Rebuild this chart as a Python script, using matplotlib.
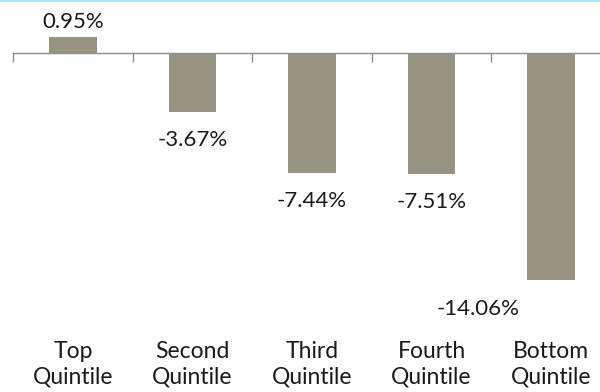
import matplotlib
matplotlib.use("Agg")
import matplotlib.pyplot as plt
import matplotlib.transforms as mtransforms

categories = ["Top\nQuintile", "Second\nQuintile", "Third\nQuintile", "Fourth\nQuintile", "Bottom\nQuintile"]
values = [0.95, -3.67, -7.44, -7.51, -14.06]
value_labels = ["0.95%", "-3.67%", "-7.44%", "-7.51%", "-14.06%"]

plt.rcParams['font.family'] = ['Lato', 'DejaVu Sans']
BAR = '#979481'
TXT = '#1a1a1a'
FS_VAL = 16
FS_CAT = 16.5

fig = plt.figure(figsize=(6.0, 3.92), dpi=100)
W, H = 600.0, 392.0
left_px, cat_w = 13.3, 119.5
ax = fig.add_axes([left_px / W, 0, 5 * cat_w / W, 1])
ax.set_xlim(-0.5, 4.5)
px_per = 16.2
zero_px = 52.7
ax.set_ylim(-(H - zero_px) / px_per, zero_px / px_per)

x = list(range(len(values)))
ax.bar(x, values, width=0.4, color=BAR, zorder=2)

for s in ['top', 'right', 'left']:
    ax.spines[s].set_visible(False)
ax.spines['bottom'].set_position(('data', 0))
ax.spines['bottom'].set_color('#8c8c8c')
ax.spines['bottom'].set_linewidth(1.0)
ax.set_yticks([])
ax.set_xticks([i - 0.5 for i in range(len(values) + 1)])
ax.set_xticklabels([])
ax.tick_params(axis='x', direction='out', length=6.5, width=1.0, color='#8c8c8c')
ax.patch.set_alpha(0)

for i, (v, lab) in enumerate(zip(values, value_labels)):
    if v >= 0:
        ax.annotate(lab, (i, v), xytext=(0, 3.5), textcoords='offset points',
                    ha='center', va='bottom', fontsize=FS_VAL, color=TXT)
    else:
        dx = 0
        if i == len(values) - 1:
            dx = -52.5
        ax.annotate(lab, (i, v), xytext=(dx, -13), textcoords='offset points',
                    ha='center', va='top', fontsize=FS_VAL, color=TXT)

trans = mtransforms.blended_transform_factory(ax.transData, ax.transAxes)
for i, c in enumerate(categories):
    ax.text(i, 1 - 364 / H, c, transform=trans, ha='center', va='center',
            fontsize=FS_CAT, color=TXT, linespacing=1.28)

# thin light-blue line along top edge
fig.add_artist(plt.Line2D([0, 1], [1 - 0.8 / H, 1 - 0.8 / H], transform=fig.transFigure,
                          color='#b3e2f4', linewidth=1.5))

fig.savefig('out.png', dpi=100)
